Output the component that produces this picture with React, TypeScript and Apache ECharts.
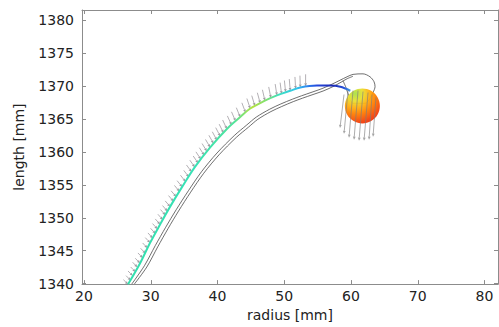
import React, { useEffect, useRef } from "react";
import * as echarts from "echarts";

// Axis ranges and ticks
const xMin = 19.7;
const xMax = 82.02;
const yMin = 1339.93;
const yMax = 1381.57;
const xTicks = [20, 30, 40, 50, 60, 70, 80];
const yTicks = [1340, 1345, 1350, 1355, 1360, 1365, 1370, 1375, 1380];

// Coloured trajectory
const trajX = [26.6, 28.4, 29.9, 31.4, 32.9, 34.7, 36.6, 38.9, 41.4, 43.4, 44.9, 47.1, 48.9, 50.9, 52.4, 54.9, 56.9, 58.4, 59.9];
const trajY = [1339.9, 1343.1, 1346.2, 1349.0, 1351.7, 1354.7, 1357.7, 1360.7, 1363.5, 1365.3, 1366.6, 1367.8, 1368.6, 1369.3, 1369.8, 1370.1, 1370.1, 1369.9, 1369.3];

// Black outline curve A (with loop round the ball)
const blackAX = [27.15, 29.05, 30.68, 32.24, 33.8, 35.64, 37.6, 39.92, 42.5, 44.39, 45.81, 47.82, 49.47, 51.22, 52.57, 54.16, 55.66, 57.15, 58.35, 59.4, 60.3, 61.8, 62.85, 63.45, 63.6, 63.3, 62.85, 62.1, 60.3, 59.7, 59.25, 58.8];
const blackAY = [1339.93, 1342.72, 1345.78, 1348.57, 1351.21, 1354.11, 1357.0, 1359.84, 1362.48, 1364.11, 1365.3, 1366.5, 1367.29, 1368.02, 1368.53, 1369.09, 1369.63, 1370.3, 1370.9, 1371.42, 1371.79, 1371.87, 1371.42, 1370.67, 1369.93, 1369.03, 1368.14, 1367.39, 1367.39, 1368.44, 1369.78, 1370.82];

// Black outline curve B
const blackBX = [27.54, 29.41, 31.04, 32.6, 34.16, 35.98, 37.93, 40.24, 42.8, 44.66, 46.05, 48.0, 49.62, 51.37, 52.72, 54.31, 55.81, 57.3, 58.5, 59.4, 60.3];
const blackBY = [1339.93, 1342.53, 1345.58, 1348.38, 1351.02, 1353.9, 1356.76, 1359.58, 1362.2, 1363.79, 1364.97, 1366.14, 1366.91, 1367.66, 1368.17, 1368.73, 1369.26, 1369.93, 1370.6, 1371.12, 1371.5];

// Force arrows along the trajectory: tip position and vector (mm)
const arrowTipX = [26.6, 27.0, 27.3, 27.7, 28.0, 28.4, 28.8, 29.2, 29.5, 29.9, 30.3, 30.7, 31.0, 31.4, 31.8, 32.2, 32.5, 32.9, 33.4, 33.8, 34.3, 34.7, 35.2, 35.7, 36.1, 36.6, 37.1, 37.5, 38.0, 38.4, 38.9, 39.4, 39.9, 40.4, 40.9, 41.4, 42.1, 42.7, 43.4, 44.2, 44.9, 45.6, 46.4, 47.1, 48.0, 48.9, 49.6, 50.2, 50.9, 51.7, 52.4, 53.2];
const arrowTipY = [1339.9, 1340.5, 1341.2, 1341.8, 1342.5, 1343.1, 1343.9, 1344.6, 1345.4, 1346.2, 1346.9, 1347.6, 1348.3, 1349.0, 1349.7, 1350.4, 1351.0, 1351.7, 1352.5, 1353.2, 1354.0, 1354.7, 1355.5, 1356.2, 1357.0, 1357.7, 1358.3, 1358.9, 1359.5, 1360.1, 1360.7, 1361.3, 1361.8, 1362.4, 1362.9, 1363.5, 1364.1, 1364.7, 1365.3, 1366.0, 1366.6, 1367.0, 1367.4, 1367.8, 1368.2, 1368.6, 1368.8, 1369.1, 1369.3, 1369.6, 1369.8, 1370.0];
const arrowVecX = [0.7, 0.7, 0.71, 0.71, 0.71, 0.72, 0.72, 0.72, 0.72, 0.72, 0.72, 0.73, 0.73, 0.73, 0.73, 0.74, 0.74, 0.74, 0.74, 0.75, 0.75, 0.75, 0.75, 0.75, 0.75, 0.75, 0.74, 0.73, 0.72, 0.71, 0.7, 0.69, 0.68, 0.67, 0.65, 0.63, 0.62, 0.6, 0.58, 0.55, 0.5, 0.47, 0.43, 0.37, 0.33, 0.26, 0.22, 0.18, 0.15, 0.1, 0.05, 0.0];
const arrowVecY = [-0.7, -0.71, -0.72, -0.73, -0.74, -0.75, -0.76, -0.77, -0.78, -0.79, -0.8, -0.81, -0.82, -0.83, -0.84, -0.85, -0.86, -0.87, -0.88, -0.9, -0.92, -0.94, -0.97, -1.0, -1.03, -1.06, -1.09, -1.12, -1.15, -1.18, -1.21, -1.24, -1.27, -1.3, -1.33, -1.36, -1.38, -1.4, -1.43, -1.47, -1.52, -1.56, -1.6, -1.65, -1.68, -1.72, -1.74, -1.76, -1.78, -1.8, -1.8, -1.8];

// Arrows below the ball
const ballArrowTipX = [58.35, 58.95, 59.7, 60.45, 61.2, 61.95, 62.7, 63.3];
const ballArrowTipY = [1363.66, 1362.76, 1362.17, 1361.87, 1361.72, 1361.72, 1361.87, 1362.32];
const ballArrowVecX = [-0.6, -0.6, -0.6, -0.6, -0.6, -0.6, -0.45, -0.44];
const ballArrowVecY = [-5.07, -6.57, -7.16, -7.46, -7.46, -7.31, -6.86, -5.97];

// Ball
const ballX = [61.7];
const ballY = [1367.0];

const FONT = "DejaVu Sans";
const AXIS_GRAY = "#8c8c8c";

function arrowRenderer(color: string, width: number, opacity: number) {
  return (params: any, api: any) => {
    const tx = api.value(0);
    const ty = api.value(1);
    const vx = api.value(2);
    const vy = api.value(3);
    const tip = api.coord([tx, ty]);
    const tail = api.coord([tx - vx, ty - vy]);
    const dx = tip[0] - tail[0];
    const dy = tip[1] - tail[1];
    const len = Math.hypot(dx, dy) || 1;
    const ux = dx / len;
    const uy = dy / len;
    const h = 3;
    const w = 1.4;
    const bx = tip[0] - ux * h;
    const by = tip[1] - uy * h;
    return {
      type: "group",
      children: [
        {
          type: "line",
          shape: { x1: tail[0], y1: tail[1], x2: bx, y2: by },
          style: { stroke: color, lineWidth: width, opacity },
        },
        {
          type: "polygon",
          shape: {
            points: [
              [tip[0], tip[1]],
              [bx - uy * w, by + ux * w],
              [bx + uy * w, by - ux * w],
            ],
          },
          style: { fill: color, opacity },
        },
      ],
    };
  };
}

export default function App() {
  const ref = useRef<HTMLDivElement>(null);

  useEffect(() => {
    if (!ref.current) return;
    const chart = echarts.init(ref.current, undefined, { renderer: "svg" });

    const traj = trajX.map((x, i) => [x, trajY[i]]);
    const blackA = blackAX.map((x, i) => [x, blackAY[i]]);
    const blackB = blackBX.map((x, i) => [x, blackBY[i]]);
    const arrows = arrowTipX.map((x, i) => [x, arrowTipY[i], arrowVecX[i], arrowVecY[i]]);
    const ballArrows = ballArrowTipX.map((x, i) => [x, ballArrowTipY[i], ballArrowVecX[i], ballArrowVecY[i]]);
    const ball = ballX.map((x, i) => [x, ballY[i]]);

    const baseX = {
      type: "value" as const,
      min: xMin,
      max: xMax,
      splitLine: { show: false },
      axisLine: { show: true, onZero: false, lineStyle: { color: AXIS_GRAY, width: 1 } },
      axisTick: { show: true, inside: true, length: 4, customValues: xTicks, lineStyle: { color: AXIS_GRAY } },
    };
    const baseY = {
      type: "value" as const,
      min: yMin,
      max: yMax,
      splitLine: { show: false },
      axisLine: { show: true, onZero: false, lineStyle: { color: AXIS_GRAY, width: 1 } },
      axisTick: { show: true, inside: true, length: 4, customValues: yTicks, lineStyle: { color: AXIS_GRAY } },
    };

    chart.setOption({
      animation: false,
      backgroundColor: "#ffffff",
      grid: { left: 82, right: 1, top: 10, bottom: 38, containLabel: false },
      xAxis: [
        {
          ...baseX,
          position: "bottom",
          name: "radius [mm]",
          nameLocation: "middle",
          nameGap: 18,
          nameTextStyle: { color: "#222", fontSize: 14, fontFamily: FONT },
          axisLabel: {
            customValues: xTicks,
            color: "#222",
            fontSize: 14,
            fontFamily: FONT,
            margin: 5,
            formatter: (v: number) => String(v),
          },
        },
        { ...baseX, position: "top", axisLabel: { show: false } },
      ],
      yAxis: [
        {
          ...baseY,
          position: "left",
          name: "length [mm]",
          nameLocation: "middle",
          nameGap: 56,
          nameRotate: 90,
          nameTextStyle: { color: "#222", fontSize: 14, fontFamily: FONT },
          axisLabel: {
            customValues: yTicks,
            color: "#222",
            fontSize: 14,
            fontFamily: FONT,
            margin: 8,
            formatter: (v: number) => String(v),
          },
        },
        { ...baseY, position: "right", axisLabel: { show: false } },
      ],
      series: [
        {
          type: "custom",
          name: "forces",
          xAxisIndex: 0,
          yAxisIndex: 0,
          renderItem: arrowRenderer("#9a969c", 0.8, 0.95),
          data: arrows,
          z: 2,
          silent: true,
        },
        {
          type: "line",
          name: "outline A",
          data: blackA,
          showSymbol: false,
          symbol: "none",
          smooth: 0.3,
          lineStyle: { color: "#4a4a4a", width: 0.8 },
          z: 3,
        },
        {
          type: "line",
          name: "outline B",
          data: blackB,
          showSymbol: false,
          symbol: "none",
          smooth: 0.3,
          lineStyle: { color: "#4a4a4a", width: 0.8 },
          z: 3,
        },
        {
          type: "line",
          name: "trajectory",
          data: traj,
          showSymbol: false,
          symbol: "none",
          smooth: 0.35,
          lineStyle: {
            width: 2,
            color: new echarts.graphic.LinearGradient(0, 0, 1, 0, [
              { offset: 0, color: "#33dfae" },
              { offset: 0.3, color: "#38e2b6" },
              { offset: 0.48, color: "#52e39a" },
              { offset: 0.56, color: "#b4e244" },
              { offset: 0.62, color: "#7fe070" },
              { offset: 0.68, color: "#3ee0c0" },
              { offset: 0.76, color: "#30c4ea" },
              { offset: 0.8, color: "#2f8ef0" },
              { offset: 0.85, color: "#2448dc" },
              { offset: 0.92, color: "#1a28b4" },
              { offset: 0.97, color: "#2850d8" },
              { offset: 1, color: "#40a0e0" },
            ]),
          },
          z: 4,
        },
        {
          type: "scatter",
          name: "ball",
          data: ball,
          symbol: "circle",
          symbolSize: 35,
          itemStyle: {
            opacity: 0.95,
            color: new echarts.graphic.RadialGradient(0.3, 0.15, 0.95, [
              { offset: 0, color: "#a8e048" },
              { offset: 0.22, color: "#e8e030" },
              { offset: 0.42, color: "#ffb010" },
              { offset: 0.62, color: "#ff7c00" },
              { offset: 0.85, color: "#f5450a" },
              { offset: 1, color: "#ee2a0a" },
            ]),
          },
          z: 5,
          silent: true,
        },
        {
          type: "custom",
          name: "ball forces",
          renderItem: arrowRenderer("#7c7c7c", 0.9, 0.7),
          data: ballArrows,
          z: 6,
          silent: true,
        },
      ],
    });

    return () => chart.dispose();
  }, []);

  return (
    <div
      ref={ref}
      style={{ position: "fixed", left: 0, top: 0, width: 499, height: 327 }}
    />
  );
}
